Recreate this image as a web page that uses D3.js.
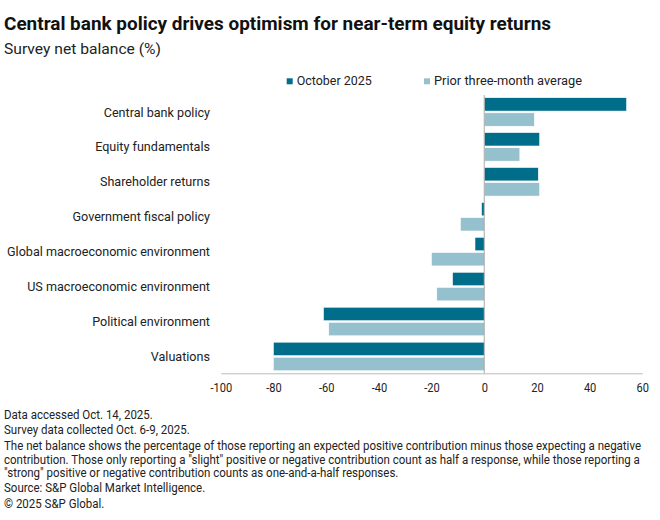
<!DOCTYPE html>
<html>
<head>
<meta charset="utf-8">
<script src="https://cdn.jsdelivr.net/npm/d3@7"></script>
<style>
  html, body { margin: 0; padding: 0; background: #fff; }
  svg { display: block; font-family: Roboto, "Noto Sans", sans-serif; }
</style>
</head>
<body>
<svg id="chart" width="660" height="520"></svg>
<script>
const categories = [
  "Central bank policy",
  "Equity fundamentals",
  "Shareholder returns",
  "Government fiscal policy",
  "Global macroeconomic environment",
  "US macroeconomic environment",
  "Political environment",
  "Valuations"
];
const october2025 = [54, 21, 20.5, -1, -3.5, -12, -61, -80];
const priorThreeMonthAvg = [19, 13.5, 21, -9, -20, -18, -59, -80];
const seriesNames = ["October 2025", "Prior three-month average"];
const xTicks = [-100, -80, -60, -40, -20, 0, 20, 40, 60];
const footnotes = [
  "Data accessed Oct. 14, 2025.",
  "Survey data collected Oct. 6-9, 2025.",
  "The net balance shows the percentage of those reporting an expected positive contribution minus those expecting a negative",
  "contribution. Those only reporting a \"slight\" positive or negative contribution count as half a response, while those reporting a",
  "\"strong\" positive or negative contribution counts as one-and-a-half responses.",
  "Source: S&P Global Market Intelligence.",
  "\u00A9 2025 S&P Global."
];

const colors = ["#006E8A", "#95C0CD"];
const svg = d3.select("#chart");

// condense/expand text horizontally to match the reference typeface widths
function squeeze(sel, factor) {
  sel.each(function () {
    const w = this.getComputedTextLength();
    d3.select(this).attr("textLength", w * factor).attr("lengthAdjust", "spacingAndGlyphs");
  });
}
function factorFor(node, target) {
  return target / node.getComputedTextLength();
}

// Title & subtitle
const title = svg.append("text").attr("x", 4).attr("y", 30)
  .attr("font-size", 18).attr("font-weight", "bold").attr("fill", "#111")
  .text("Central bank policy drives optimism for near-term equity returns");
squeeze(title, factorFor(title.node(), 547));
const sub = svg.append("text").attr("x", 4).attr("y", 54.3)
  .attr("font-size", 14).attr("fill", "#222")
  .text("Survey net balance (%)");
squeeze(sub, factorFor(sub.node(), 157));

// Scales
const x = d3.scaleLinear().domain([-100, 60]).range([220.8, 642.3]);
const y = d3.scaleBand().domain(categories).range([95.1, 373.3])
  .paddingInner(0.185).paddingOuter(0.075);
const ySub = d3.scaleBand().domain([0, 1]).range([0, y.bandwidth()]).paddingInner(0.12);

// Legend
const legendX = [286.7, 424];
const legendW = [75, 148];
seriesNames.forEach((name, i) => {
  const g = svg.append("g").attr("transform", `translate(${legendX[i]},0)`);
  g.append("rect").attr("x", 0).attr("y", 78.3).attr("width", 6).attr("height", 6).attr("fill", colors[i]);
  const t = g.append("text").attr("x", 10).attr("y", 84.7).attr("font-size", 12).attr("fill", "#222").text(name);
  squeeze(t, factorFor(t.node(), legendW[i]));
});

// Bars
const series = [october2025, priorThreeMonthAvg];
const gBars = svg.append("g");
series.forEach((vals, si) => {
  gBars.selectAll(null).data(categories).enter().append("rect")
    .attr("x", (d, i) => x(Math.min(0, vals[i])))
    .attr("y", d => y(d) + ySub(si))
    .attr("width", (d, i) => Math.abs(x(vals[i]) - x(0)))
    .attr("height", ySub.bandwidth())
    .attr("fill", colors[si])
    .attr("stroke", "#fff").attr("stroke-width", 0.5);
});

// Zero line
svg.append("line")
  .attr("x1", x(0)).attr("x2", x(0))
  .attr("y1", y.range()[0]).attr("y2", y.range()[1])
  .attr("stroke", "#A8A8A8").attr("stroke-width", 1);

// Category labels
const catLabels = svg.append("g").selectAll("text").data(categories).enter().append("text")
  .attr("x", 210).attr("y", d => y(d) + y.bandwidth() / 2)
  .attr("dy", "0.35em").attr("text-anchor", "end")
  .attr("font-size", 13).attr("fill", "#222").text(d => d);
const longest = catLabels.filter(d => d === "Global macroeconomic environment").node();
squeeze(catLabels, factorFor(longest, 203));

// X axis
const axis = svg.append("g").attr("transform", `translate(0,${y.range()[1]})`)
  .call(d3.axisBottom(x).tickValues(xTicks).tickSize(0).tickPadding(9).tickFormat(d => String(d)));
axis.select(".domain").attr("stroke", "#BBBBBB");
const tickTexts = axis.selectAll("text").attr("font-size", 13).attr("fill", "#222")
  .attr("font-family", "Roboto, sans-serif");
const t100 = tickTexts.filter(d => d === -100).node();
squeeze(tickTexts, factorFor(t100, 21.7));

// Footnotes
const fy = [418.5, 434, 450, 463.5, 476.5, 492, 507.5];
const notes = svg.append("g").selectAll("text").data(footnotes).enter().append("text")
  .attr("x", 4).attr("y", (d, i) => fy[i])
  .attr("font-size", 12).attr("fill", "#222").text(d => d);
squeeze(notes, factorFor(notes.filter((d, i) => i === 2).node(), 637));
</script>
</body>
</html>
